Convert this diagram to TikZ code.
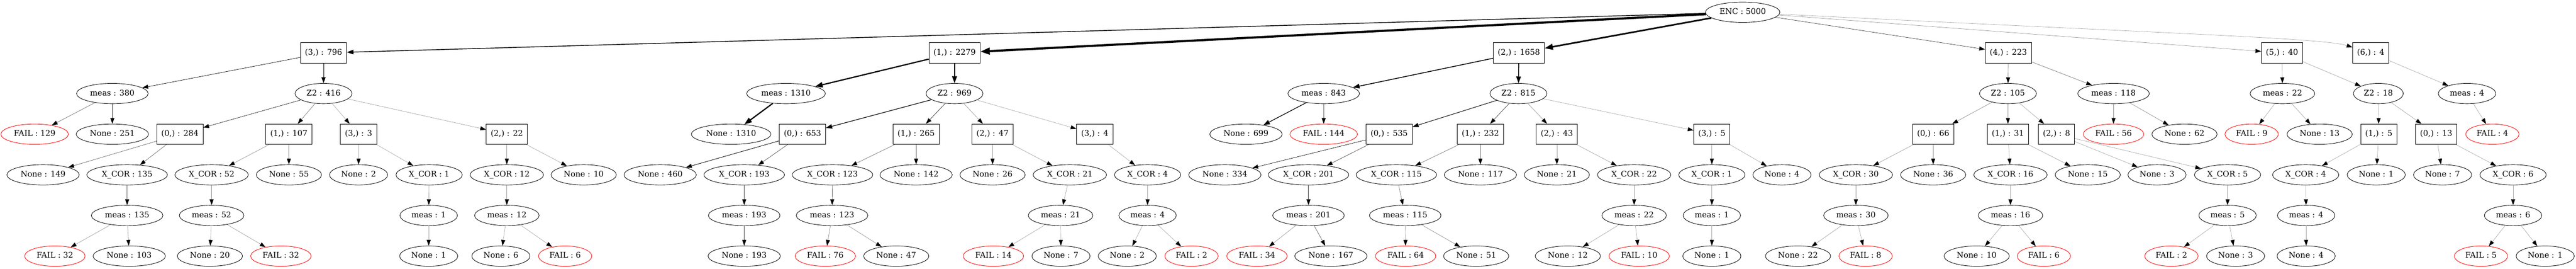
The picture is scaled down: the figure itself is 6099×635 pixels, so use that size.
\documentclass[tikz,border=0pt]{standalone}
\usepackage{fontspec}
\setmainfont{DejaVu Serif}
\usetikzlibrary{arrows.meta,shapes.geometric}
\tikzset{
  base/.style={font=\fontsize{14}{16}\selectfont, text height=10pt, text depth=3pt, line width=0.8pt, minimum height=36pt},
  el/.style={base, ellipse, draw=black, inner xsep=5.5pt, inner ysep=2pt},
  fl/.style={el, draw=red},
  bx/.style={base, rectangle, draw=black, inner xsep=8pt, inner ysep=2pt},
  ed/.style={/utils/exec={\pgfmathsetmacro\edgewd{max(#1/600,0.6)}\pgfmathsetmacro\edgecl{min(100,35+#1/5)}},
    line width=\edgewd pt, draw=black!\edgecl,
    -{Triangle[length=9pt 2, width=6.2pt 1.5, color=black]}},
}
\begin{document}
\begin{tikzpicture}[x=0.75pt,y=-0.75pt]
\useasboundingbox (0,0) rectangle (6099,635);
% row 0
\node[el] (enc) at (4126,29) {ENC : 5000};
% row 1
\node[bx] (a) at (766,125) {(3,) : 796};
\node[bx] (b) at (2260,125) {(1,) : 2279};
\node[bx] (c) at (3596,125) {(2,) : 1658};
\node[bx] (d) at (4755,125) {(4,) : 223};
\node[bx] (e) at (5403,125) {(5,) : 40};
\node[bx] (f) at (5613,125) {(6,) : 4};
% row 2
\node[el] (am) at (266,221) {meas : 380};
\node[el] (az) at (766,221) {Z2 : 416};
\node[el] (bm) at (1861,221) {meas : 1310};
\node[el] (bz) at (2260,221) {Z2 : 969};
\node[el] (cm) at (3134,221) {meas : 843};
\node[el] (cz) at (3595,221) {Z2 : 815};
\node[el] (dz) at (4754,221) {Z2 : 105};
\node[el] (dm) at (5004,221) {meas : 118};
\node[el] (em) at (5404,221) {meas : 22};
\node[el] (ez) at (5631,221) {Z2 : 18};
\node[el] (fm) at (5841,221) {meas : 4};
% row 3
\node[fl] (amF) at (82,317) {FAIL : 129};
\node[el] (amN) at (266,317) {None : 251};
\node[bx] (az0) at (426,317) {(0,) : 284};
\node[bx] (az1) at (684,317) {(1,) : 107};
\node[bx] (az3) at (849,317) {(3,) : 3};
\node[bx] (az2) at (1200,317) {(2,) : 22};
\node[el] (bmN) at (1731,317) {None : 1310};
\node[bx] (bz0) at (1900,317) {(0,) : 653};
\node[bx] (bz1) at (2169,317) {(1,) : 265};
\node[bx] (bz2) at (2350,317) {(2,) : 47};
\node[bx] (bz3) at (2592,317) {(3,) : 4};
\node[el] (cmN) at (2950,317) {None : 699};
\node[fl] (cmF) at (3134,317) {FAIL : 144};
\node[bx] (cz0) at (3289,317) {(0,) : 535};
\node[bx] (cz1) at (3505,317) {(1,) : 232};
\node[bx] (cz2) at (3686,317) {(2,) : 43};
\node[bx] (cz3) at (4053,317) {(3,) : 5};
\node[bx] (dz0) at (4577,317) {(0,) : 66};
\node[bx] (dz1) at (4754,317) {(1,) : 31};
\node[bx] (dz2) at (4869,317) {(2,) : 8};
\node[fl] (dmF) at (5004,317) {FAIL : 56};
\node[el] (dmN) at (5172,317) {None : 62};
\node[fl] (emF) at (5331,317) {FAIL : 9};
\node[el] (emN) at (5492,317) {None : 13};
\node[bx] (ez1) at (5632,317) {(1,) : 5};
\node[bx] (ez0) at (5768,317) {(0,) : 13};
\node[fl] (fmF) at (5901,317) {FAIL : 4};
% row 4
\node[el] (az0N) at (102,413) {None : 149};
\node[el] (az0X) at (301,413) {X\_COR : 135};
\node[el] (az1X) at (501,413) {X\_COR : 52};
\node[el] (az1N) at (684,413) {None : 55};
\node[el] (az3N) at (849,413) {None : 2};
\node[el] (az3X) at (1016,413) {X\_COR : 1};
\node[el] (az2X) at (1200,413) {X\_COR : 12};
\node[el] (az2N) at (1382,413) {None : 10};
\node[el] (bz0N) at (1563,413) {None : 460};
\node[el] (bz0X) at (1762,413) {X\_COR : 193};
\node[el] (bz1X) at (1971,413) {X\_COR : 123};
\node[el] (bz1N) at (2169,413) {None : 142};
\node[el] (bz2N) at (2350,413) {None : 26};
\node[el] (bz2X) at (2533,413) {X\_COR : 21};
\node[el] (bz3X) at (2717,413) {X\_COR : 4};
\node[el] (cz0N) at (2900,413) {None : 334};
\node[el] (cz0X) at (3098,413) {X\_COR : 201};
\node[el] (cz1X) at (3306,413) {X\_COR : 115};
\node[el] (cz1N) at (3505,413) {None : 117};
\node[el] (cz2N) at (3686,413) {None : 21};
\node[el] (cz2X) at (3869,413) {X\_COR : 22};
\node[el] (cz3X) at (4053,413) {X\_COR : 1};
\node[el] (cz3N) at (4219,413) {None : 4};
\node[el] (dz0X) at (4394,413) {X\_COR : 30};
\node[el] (dz0N) at (4577,413) {None : 36};
\node[el] (dz1X) at (4760,413) {X\_COR : 16};
\node[el] (dz1N) at (4943,413) {None : 15};
\node[el] (dz2N) at (5107,413) {None : 3};
\node[el] (dz2X) at (5274,413) {X\_COR : 5};
\node[el] (ez1X) at (5459,413) {X\_COR : 4};
\node[el] (ez1N) at (5626,413) {None : 1};
\node[el] (ez0N) at (5783,413) {None : 7};
\node[el] (ez0X) at (5950,413) {X\_COR : 6};
% row 5
\node[el] (az0M) at (301,509) {meas : 135};
\node[el] (az1M) at (501,509) {meas : 52};
\node[el] (az3M) at (1015,509) {meas : 1};
\node[el] (az2M) at (1200,509) {meas : 12};
\node[el] (bz0M) at (1762,509) {meas : 193};
\node[el] (bz1M) at (1970,509) {meas : 123};
\node[el] (bz2M) at (2511,509) {meas : 21};
\node[el] (bz3M) at (2717,509) {meas : 4};
\node[el] (cz0M) at (3098,509) {meas : 201};
\node[el] (cz1M) at (3327,509) {meas : 115};
\node[el] (cz2M) at (3869,509) {meas : 22};
\node[el] (cz3M) at (4053,509) {meas : 1};
\node[el] (dz0M) at (4394,509) {meas : 30};
\node[el] (dz1M) at (4760,509) {meas : 16};
\node[el] (dz2M) at (5274,509) {meas : 5};
\node[el] (ez1M) at (5460,509) {meas : 4};
\node[el] (ez0M) at (5950,509) {meas : 6};
% row 6
\node[fl] (l1) at (130,605) {FAIL : 32};
\node[el] (l2) at (306,605) {None : 103};
\node[el] (l3) at (497,605) {None : 20};
\node[fl] (l4) at (665,605) {FAIL : 32};
\node[el] (l5) at (1015,605) {None : 1};
\node[el] (l6) at (1186,605) {None : 6};
\node[fl] (l7) at (1338,605) {FAIL : 6};
\node[el] (l8) at (1762,605) {None : 193};
\node[fl] (l9) at (1954,605) {FAIL : 76};
\node[el] (l10) at (2122,605) {None : 47};
\node[fl] (l11) at (2352,605) {FAIL : 14};
\node[el] (l12) at (2512,605) {None : 7};
\node[el] (l13) at (2669,605) {None : 2};
\node[fl] (l14) at (2821,605) {FAIL : 2};
\node[fl] (l15) at (2976,605) {FAIL : 34};
\node[el] (l16) at (3151,605) {None : 167};
\node[fl] (l17) at (3328,605) {FAIL : 64};
\node[el] (l18) at (3495,605) {None : 51};
\node[el] (l19) at (3712,605) {None : 12};
\node[fl] (l20) at (3881,605) {FAIL : 10};
\node[el] (l21) at (4053,605) {None : 1};
\node[el] (l22) at (4257,605) {None : 22};
\node[fl] (l23) at (4417,605) {FAIL : 8};
\node[el] (l24) at (4680,605) {None : 10};
\node[fl] (l25) at (4839,605) {FAIL : 6};
\node[fl] (l26) at (5141,605) {FAIL : 2};
\node[el] (l27) at (5293,605) {None : 3};
\node[el] (l28) at (5460,605) {None : 4};
\node[fl] (l29) at (5874,605) {FAIL : 5};
\node[el] (l30) at (6026,605) {None : 1};
% edges
\foreach \p/\c/\n in {
  enc/a/796, enc/b/2279, enc/c/1658, enc/d/223, enc/e/40,
  a/am/380, a/az/416, b/bm/1310, b/bz/969, c/cm/843, c/cz/815,
  d/dz/105, d/dm/118, e/em/22, e/ez/18, f/fm/4,
  am/amF/129, am/amN/251, az/az0/284, az/az1/107, az/az3/3, az/az2/22,
  bm/bmN/1310, bz/bz0/653, bz/bz1/265, bz/bz2/47, bz/bz3/4,
  cm/cmN/699, cm/cmF/144, cz/cz0/535, cz/cz1/232, cz/cz2/43, cz/cz3/5,
  dz/dz0/66, dz/dz1/31, dz/dz2/8, dm/dmF/56, dm/dmN/62,
  em/emF/9, em/emN/13, ez/ez1/5, ez/ez0/13, fm/fmF/4,
  az0/az0N/149, az0/az0X/135, az1/az1X/52, az1/az1N/55,
  az3/az3N/2, az3/az3X/1, az2/az2X/12, az2/az2N/10,
  bz0/bz0N/460, bz0/bz0X/193, bz1/bz1X/123, bz1/bz1N/142,
  bz2/bz2N/26, bz2/bz2X/21, bz3/bz3X/4,
  cz0/cz0N/334, cz0/cz0X/201, cz1/cz1X/115, cz1/cz1N/117,
  cz2/cz2N/21, cz2/cz2X/22, cz3/cz3X/1, cz3/cz3N/4,
  dz0/dz0X/30, dz0/dz0N/36, dz1/dz1X/16, dz1/dz1N/15,
  dz2/dz2N/3, dz2/dz2X/5, ez1/ez1X/4, ez1/ez1N/1, ez0/ez0N/7, ez0/ez0X/6,
  az0X/az0M/135, az1X/az1M/52, az3X/az3M/1, az2X/az2M/12,
  bz0X/bz0M/193, bz1X/bz1M/123, bz2X/bz2M/21, bz3X/bz3M/4,
  cz0X/cz0M/201, cz1X/cz1M/115, cz2X/cz2M/22, cz3X/cz3M/1,
  dz0X/dz0M/30, dz1X/dz1M/16, dz2X/dz2M/5, ez1X/ez1M/4, ez0X/ez0M/6,
  az0M/l1/32, az0M/l2/103, az1M/l3/20, az1M/l4/32, az3M/l5/1,
  az2M/l6/6, az2M/l7/6, bz0M/l8/193, bz1M/l9/76, bz1M/l10/47,
  bz2M/l11/14, bz2M/l12/7, bz3M/l13/2, bz3M/l14/2,
  cz0M/l15/34, cz0M/l16/167, cz1M/l17/64, cz1M/l18/51,
  cz2M/l19/12, cz2M/l20/10, cz3M/l21/1,
  dz0M/l22/22, dz0M/l23/8, dz1M/l24/10, dz1M/l25/6,
  dz2M/l26/2, dz2M/l27/3, ez1M/l28/4, ez0M/l29/5, ez0M/l30/1}
  { \draw[ed=\n] (\p) -- (\c); }
\draw[ed=4] (enc) .. controls (5150,80) and (5500,90) .. (f);
\end{tikzpicture}
\end{document}
